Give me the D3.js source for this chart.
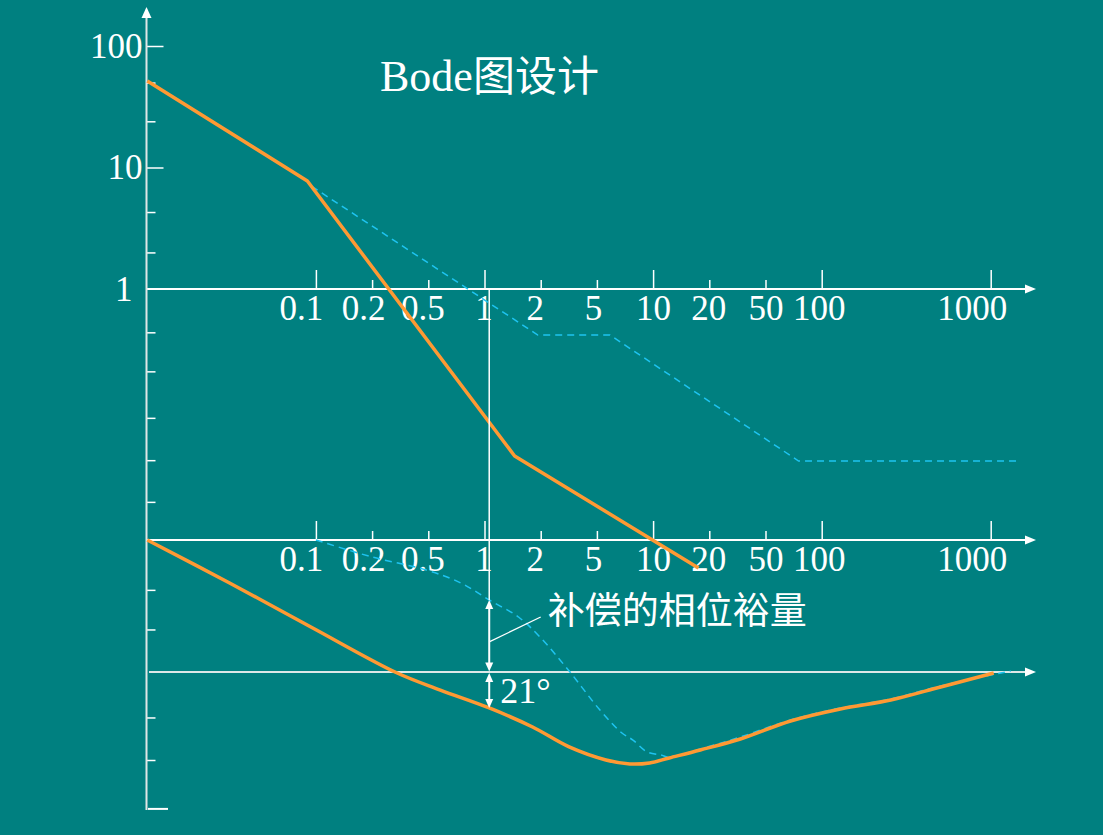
<!DOCTYPE html>
<html><head><meta charset="utf-8">
<script src="https://cdn.jsdelivr.net/npm/d3@7"></script>
<style>html,body{margin:0;padding:0;background:#008080;overflow:hidden}</style>
</head><body><svg id="c" width="1103" height="835"></svg>
<script>
// ---------------- data ----------------
const freqTicks      = [0.1, 0.2, 0.5, 1, 2, 5, 10, 20, 50, 100, 1000];
const freqTickLabels = ["0.1","0.2","0.5","1","2","5","10","20","50","100","1000"];
const freqMajorTicks = [0.1, 1, 10, 100, 1000];
const freqMinorTicks = [0.2, 0.5, 2, 5, 20, 50];
const magTickValues  = [100, 10, 1];
const magTickLabels  = ["100", "10", "1"];
const magMajorTicks  = [100, 10];
const magMinorTicks  = [50, 24, 4.3, 2, 0.44, 0.21, 0.087, 0.039, 0.0177];
const phaseMinorTicks = [-124, -151, -211, -240];
const phaseEndTick    = [-273];

// magnitude (frequency, |G|)
const magCompensated = [[0.01, 51.5], [0.09, 7.74], [1.45, 0.0422], [17.5, 0.00506]];
const magOriginal    = [[0.095, 7.0], [1.93, 0.418], [5.87, 0.418], [75.2, 0.0384], [1466, 0.0384]];

// phase (frequency, degrees)
const phaseCompensated = [[0.01,-90],[0.0306,-119.3],[0.094,-149.3],[0.301,-180.7],[0.58,-192.3],
  [1.06,-204.5],[1.81,-217.5],[3.18,-231.1],[5.59,-240.0],[7.5,-242.7],[9.58,-242.0],[12.2,-238.6],[17.9,-233.2],
  [33.2,-225.7],[68.1,-213.4],[129,-205.2],[256,-199.1],[506,-190.2],[1042,-180.7]];
const phaseOriginal = [[0.1,-90],[0.2,-101.6],[0.484,-110.5],[0.747,-119.3],[1.06,-130.9],
  [1.52,-142.5],[1.98,-156.1],[3.16,-179],[5.19,-205.9],[6.81,-221.6],[7.8,-226.4],
  [9.29,-234.5],[11.04,-236.6],[12.2,-238],[17.9,-232.5],[33.2,-224.3],[68.1,-212.7],
  [129,-204.5],[256,-198.4],[506,-189.5],[1313,-179.3]];

const crossover = 1.06;
const phaseAtCrossOriginal = -130.9;
const phaseAtCrossCompensated = -204.5;
const leaderFrom = [1.06, -159.5];
const leaderTo   = [2.0, -142.5];
const marginLabel = "21°";
const noteLabel = "补偿的相位裕量";
const titleLatin = "Bode";
const titleCJK = "图设计";

// ---------------- layout ----------------
const W = 1103, H = 835;
const axisX = 146.5, arrowTipX = 1036;
const labelNudge = [-15, -9, -6, -1, -6, -4, 0, -1, 0, -3, -19];
const serif = "'Liberation Serif','Times New Roman',serif";
const cjk = "'Noto Sans CJK SC','Noto Sans CJK JP',sans-serif";
const ORANGE = "#ff9933", BLUE = "#1ec3f0", BG = "#008080";

const svg = d3.select("#c");
svg.append("rect").attr("width", W).attr("height", H).attr("fill", BG);

// piecewise frequency scale (equal spacing for 1-2-5 steps, wide last decade)
const knots = [0.01,0.02,0.05,0.1,0.2,0.5,1,2,5,10,20,50,100,1000];
const step = 56.2, x0 = 147.3;
const knotPx = knots.map((k, i) => i < 13 ? x0 + i * step : x0 + 12 * step + 169);
const xl = d3.scaleLinear().domain(knots.map(Math.log10)).range(knotPx);
const x = w => xl(Math.log10(w));
const yMag = d3.scaleLog().domain([1, 100]).range([289, 46]);
const yPh = d3.scaleLinear().domain([-90, -180]).range([540, 672]);

function styleAxis(g, color, width) {
  g.select(".domain").remove();
  g.selectAll(".tick line").attr("stroke", color).attr("stroke-width", width);
}

// ---- horizontal frequency axes ----
function freqAxis(yPos) {
  const g = svg.append("g");
  g.append("g").attr("transform", `translate(0,${yPos})`)
    .call(d3.axisTop(xl).tickValues(freqMajorTicks.map(Math.log10)).tickSize(19).tickFormat(""))
    .call(a => styleAxis(a, "#fff", 1.5));
  g.append("g").attr("transform", `translate(0,${yPos})`)
    .call(d3.axisTop(xl).tickValues(freqMinorTicks.map(Math.log10)).tickSize(9).tickFormat(""))
    .call(a => styleAxis(a, "#fff", 1.5));
  const lab = g.append("g").attr("transform", `translate(0,${yPos})`)
    .call(d3.axisBottom(xl).tickValues(freqTicks.map(Math.log10)).tickSize(0).tickPadding(6)
      .tickFormat((d, i) => freqTickLabels[i]));
  lab.select(".domain").remove();
  lab.selectAll(".tick text").attr("fill", "#fff").attr("font-family", serif)
    .attr("font-size", 35).attr("x", (d, i) => labelNudge[i]);
  return g;
}
freqAxis(yMag(1));
freqAxis(yPh(-90));

// ---- vertical axis ticks/labels ----
svg.append("g").attr("transform", `translate(${axisX},0)`)
  .call(d3.axisRight(yMag).tickValues(magMajorTicks).tickSize(17).tickFormat(""))
  .call(a => styleAxis(a, "#fff", 1.5));
svg.append("g").attr("transform", `translate(${axisX},0)`)
  .call(d3.axisRight(yMag).tickValues(magMinorTicks).tickSize(9).tickFormat(""))
  .call(a => styleAxis(a, "#fff", 1.5));
svg.append("g").attr("transform", `translate(${axisX},0)`)
  .call(d3.axisRight(yPh).tickValues(phaseMinorTicks).tickSize(9).tickFormat(""))
  .call(a => styleAxis(a, "#fff", 1.5));
svg.append("g").attr("transform", `translate(${axisX + 1.5},0)`)
  .call(d3.axisRight(yPh).tickValues(phaseEndTick).tickSize(20).tickFormat(""))
  .call(a => styleAxis(a, "#fff", 2));
const yl = svg.append("g").attr("transform", `translate(${axisX},0)`)
  .call(d3.axisLeft(yMag).tickValues(magTickValues).tickSize(0).tickPadding(4)
    .tickFormat((d, i) => magTickLabels[i]));
yl.select(".domain").remove();
yl.selectAll(".tick text").attr("fill", "#fff").attr("font-family", serif).attr("font-size", 35)
  .attr("x", (d, i) => i === 2 ? -14 : -4);

// ---- axis lines with arrows ----
function hArrowAxis(yPos, startX, color) {
  svg.append("line").attr("x1", startX).attr("x2", arrowTipX - 8).attr("y1", yPos).attr("y2", yPos)
    .attr("stroke", color).attr("stroke-width", 2);
  svg.append("path").attr("d", `M${arrowTipX},${yPos} L${arrowTipX - 11},${yPos - 4.5} L${arrowTipX - 11},${yPos + 4.5} Z`)
    .attr("fill", "#fff");
}
hArrowAxis(yMag(1), axisX, "#fff");
hArrowAxis(yPh(-90), axisX, "#fff");
hArrowAxis(yPh(-180), 149, "#dde8e8");
svg.append("line").attr("x1", axisX).attr("x2", axisX).attr("y1", 15).attr("y2", 810)
  .attr("stroke", "#dfe6e6").attr("stroke-width", 2);
svg.append("path").attr("d", `M${axisX},7 L${axisX - 5},18 L${axisX + 5},18 Z`).attr("fill", "#fff");

// ---- curves ----
const magLine = d3.line().x(d => x(d[0])).y(d => yMag(d[1]));
const phLine = d3.line().x(d => x(d[0])).y(d => yPh(d[1])).curve(d3.curveCatmullRom.alpha(0.5));

svg.append("path").attr("d", magLine(magOriginal)).attr("fill", "none")
  .attr("stroke", BLUE).attr("stroke-width", 1.5).attr("stroke-dasharray", "7,5");
svg.append("path").attr("d", phLine(phaseOriginal)).attr("fill", "none")
  .attr("stroke", BLUE).attr("stroke-width", 1.5).attr("stroke-dasharray", "7,5");
svg.append("path").attr("d", magLine(magCompensated)).attr("fill", "none")
  .attr("stroke", ORANGE).attr("stroke-width", 3.5).attr("stroke-linejoin", "round");
svg.append("path").attr("d", phLine(phaseCompensated)).attr("fill", "none")
  .attr("stroke", ORANGE).attr("stroke-width", 3.5).attr("stroke-linejoin", "round");

// ---- annotations ----
const xc = x(crossover);
svg.append("line").attr("x1", xc).attr("x2", xc).attr("y1", yMag(1)).attr("y2", yPh(phaseAtCrossOriginal))
  .attr("stroke", "#fff").attr("stroke-width", 1.5);
function dblArrow(y1, y2) {
  svg.append("line").attr("x1", xc).attr("x2", xc).attr("y1", y1 + 6).attr("y2", y2 - 6)
    .attr("stroke", "#fff").attr("stroke-width", 2);
  svg.append("path").attr("d", `M${xc},${y1} L${xc - 4},${y1 + 9} L${xc + 4},${y1 + 9} Z`).attr("fill", "#fff");
  svg.append("path").attr("d", `M${xc},${y2} L${xc - 4},${y2 - 9} L${xc + 4},${y2 - 9} Z`).attr("fill", "#fff");
}
dblArrow(yPh(phaseAtCrossOriginal), yPh(-180) - 0.5);
dblArrow(yPh(-180) + 1, yPh(phaseAtCrossCompensated));

svg.append("line").attr("x1", x(leaderFrom[0])).attr("y1", yPh(leaderFrom[1]))
  .attr("x2", x(leaderTo[0])).attr("y2", yPh(leaderTo[1]))
  .attr("stroke", "#fff").attr("stroke-width", 1.3);
svg.append("text").attr("x", x(leaderTo[0]) + 7).attr("y", yPh(leaderTo[1]) + 7)
  .attr("fill", "#fff").attr("font-family", cjk).attr("font-size", 37).text(noteLabel);
svg.append("text").attr("x", xc + 11).attr("y", yPh(-180) + 31)
  .attr("fill", "#fff").attr("font-family", serif).attr("font-size", 36).text(marginLabel);

// ---- title ----
const t = svg.append("text").attr("x", 380).attr("y", 91).attr("fill", "#fff");
t.append("tspan").attr("font-family", serif).attr("font-size", 44).text(titleLatin);
t.append("tspan").attr("font-family", cjk).attr("font-size", 42).text(titleCJK);
</script>
</body></html>
